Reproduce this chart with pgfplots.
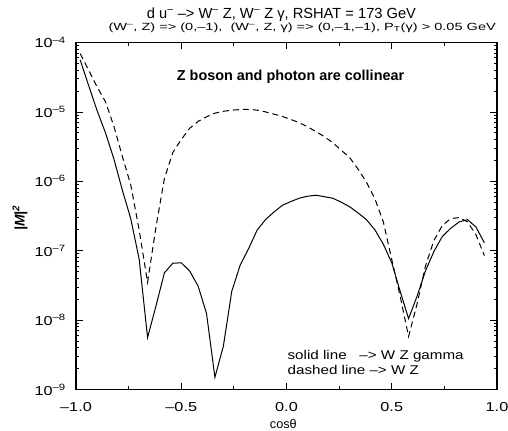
\documentclass[border=0pt]{standalone}
\usepackage{fontspec}
\setmainfont{Liberation Sans}
\newfontfamily\tickfont{Liberation Sans}[FakeStretch=1.25]
\newfontfamily\legfont{Liberation Sans}[FakeStretch=1.2]
\newfontfamily\subfont{Liberation Sans}[FakeStretch=1.4]
\usepackage{pgfplots}
\pgfplotsset{compat=1.18}
\begin{document}
\begin{tikzpicture}
\useasboundingbox (-57pt,-31.125pt) rectangle (324pt,292.125pt);
\begin{axis}[
  at={(0pt,0pt)}, anchor=south west,
  scale only axis, width=315.75pt, height=260.25pt,
  xmin=-1, xmax=1, ymode=log, ymin=1e-9, ymax=1e-4,
  xtick={-1,-0.5,0,0.5,1},
  xticklabels={–1.0,–0.5,0.0,0.5,1.0},
  minor x tick num=1,
  ytick={1e-9,1e-8,1e-7,1e-6,1e-5,1e-4},
  yticklabels={10\textsuperscript{–9},10\textsuperscript{–8},10\textsuperscript{–7},10\textsuperscript{–6},10\textsuperscript{–5},10\textsuperscript{–4}},
  minor ytick={2e-9,3e-9,4e-9,5e-9,6e-9,7e-9,8e-9,9e-9,
               2e-8,3e-8,4e-8,5e-8,6e-8,7e-8,8e-8,9e-8,
               2e-7,3e-7,4e-7,5e-7,6e-7,7e-7,8e-7,9e-7,
               2e-6,3e-6,4e-6,5e-6,6e-6,7e-6,8e-6,9e-6,
               2e-5,3e-5,4e-5,5e-5,6e-5,7e-5,8e-5,9e-5},
  tick align=inside,
  major tick length=5pt, minor tick length=2.5pt,
  axis line style={line width=0.9pt},
  every tick/.style={black, line width=0.6pt},
  ticklabel style={font=\tickfont\fontsize{9.75}{11}\selectfont},
  xticklabel shift=6pt,
  yticklabel shift=4pt,
]
\addplot[black, line width=0.75pt] coordinates {
(-0.98,5.6e-5) (-0.94,2.4e-5) (-0.90,1.05e-5) (-0.86,5.0e-6) (-0.82,2.1e-6)
(-0.78,7.5e-7) (-0.74,2.9e-7) (-0.70,7.6e-8) (-0.66,5.6e-9) (-0.62,1.6e-8)
(-0.58,4.8e-8) (-0.54,6.6e-8) (-0.50,6.7e-8) (-0.46,5.1e-8) (-0.42,3.1e-8)
(-0.38,1.25e-8) (-0.34,1.5e-9) (-0.30,4.2e-9) (-0.26,2.6e-8) (-0.22,6.2e-8)
(-0.18,1.07e-7) (-0.14,1.97e-7) (-0.10,2.8e-7) (-0.06,3.6e-7) (-0.02,4.5e-7)
(0.02,5.1e-7) (0.06,5.7e-7) (0.10,6.1e-7) (0.14,6.3e-7) (0.18,6.0e-7)
(0.22,5.7e-7) (0.26,5.0e-7) (0.30,4.3e-7) (0.34,3.5e-7) (0.38,2.8e-7)
(0.42,2.0e-7) (0.46,1.24e-7) (0.50,6.7e-8) (0.54,2.6e-8) (0.58,1.05e-8)
(0.62,2.2e-8) (0.66,5.1e-8) (0.70,9.7e-8) (0.74,1.6e-7) (0.78,2.1e-7)
(0.82,2.6e-7) (0.86,2.8e-7) (0.90,2.2e-7) (0.94,1.3e-7)
};
\addplot[black, line width=0.75pt, dash pattern=on 4.5pt off 3pt] coordinates {
(-0.98,6.9e-5) (-0.94,4.0e-5) (-0.90,2.3e-5) (-0.86,1.4e-5) (-0.82,6.2e-6)
(-0.78,2.3e-6) (-0.74,8.9e-7) (-0.70,2.0e-7) (-0.66,3.5e-8) (-0.62,2.2e-7)
(-0.58,1.1e-6) (-0.54,2.6e-6) (-0.50,4.0e-6) (-0.46,5.8e-6) (-0.42,7.3e-6)
(-0.38,8.5e-6) (-0.34,9.6e-6) (-0.30,1.02e-5) (-0.26,1.06e-5) (-0.22,1.08e-5)
(-0.18,1.09e-5) (-0.14,1.06e-5) (-0.10,1.0e-5) (-0.06,9.3e-6) (-0.02,8.6e-6)
(0.02,7.8e-6) (0.06,7.0e-6) (0.10,6.1e-6) (0.14,5.2e-6) (0.18,4.4e-6)
(0.22,3.6e-6) (0.26,2.8e-6) (0.30,2.2e-6) (0.34,1.5e-6) (0.38,9.7e-7)
(0.42,5.6e-7) (0.46,2.6e-7) (0.50,7.5e-8) (0.54,2.2e-8) (0.58,5.8e-9)
(0.62,1.7e-8) (0.66,6.0e-8) (0.70,1.4e-7) (0.74,2.3e-7) (0.78,2.9e-7)
(0.82,3.0e-7) (0.86,2.6e-7) (0.90,1.7e-7) (0.94,8.5e-8)
};
\end{axis}
\node[anchor=base west, inner sep=0pt, font=\fontsize{11}{13}\selectfont] at (53pt,278.4pt)
  {d u\textsuperscript{–} –> W\textsuperscript{–} Z, W\textsuperscript{–} Z γ, RSHAT = 173 GeV};
\node[anchor=base west, inner sep=0pt, font=\subfont\fontsize{7.8}{9}\selectfont] at (24.2pt,269.6pt)
  {(W\textsuperscript{–}, Z) => (0,–1),\ \ (W\textsuperscript{–}, Z, γ) => (0,–1,–1), P\textsubscript{T}(γ) > 0.05 GeV};
\node[anchor=base west, inner sep=0pt, font=\bfseries\fontsize{10.8}{12}\selectfont] at (75.5pt,232pt)
  {Z boson and photon are collinear};
\node[anchor=base west, inner sep=0pt, font=\legfont\fontsize{9.5}{11}\selectfont] at (158.5pt,22.6pt)
  {solid line\ \ \ –> W Z gamma};
\node[anchor=base west, inner sep=0pt, font=\legfont\fontsize{9.5}{11}\selectfont] at (158.5pt,10.9pt)
  {dashed line –> W Z};
\node[rotate=90, inner sep=0pt, font=\bfseries\itshape\fontsize{10.5}{12}\selectfont] at (-42pt,128.6pt)
  {|M|\textsuperscript{2}};
\node[anchor=base, inner sep=0pt, font=\fontsize{9.5}{11}\selectfont] at (155.5pt,-28.9pt)
  {cosθ};
\end{tikzpicture}
\end{document}
